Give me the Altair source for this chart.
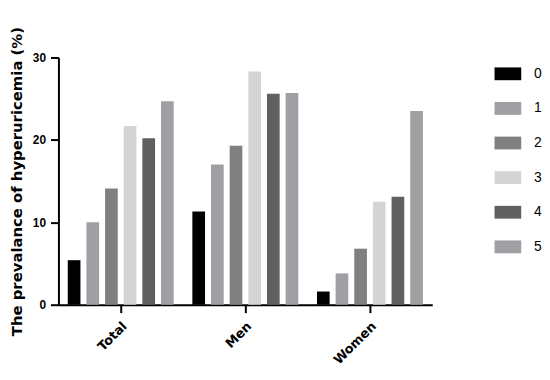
import altair as alt
import pandas as pd

groups = ["Total", "Men", "Women"]
levels = ["0", "1", "2", "3", "4", "5"]
total_vals = [5.4, 10.0, 14.1, 21.7, 20.2, 24.7]
men_vals = [11.3, 17.0, 19.3, 28.3, 25.6, 25.7]
women_vals = [1.6, 3.8, 6.8, 12.5, 13.1, 23.5]
colors = ["#000000", "#a0a0a4", "#808080", "#d4d4d4", "#606060", "#a0a0a4"]

rows = []
for g, vals in zip(groups, [total_vals, men_vals, women_vals]):
    for lv, v in zip(levels, vals):
        rows.append({"group": g, "level": lv, "value": v})
df = pd.DataFrame(rows)

chart = alt.Chart(df).mark_bar().encode(
    x=alt.X("group:N", sort=groups,
            scale=alt.Scale(paddingInner=0, paddingOuter=0),
            axis=alt.Axis(title=None, labelAngle=-45, labelFont="DejaVu Sans",
                          labelFontWeight="bold", labelFontSize=13, labelColor="black",
                          labelPadding=7, tickSize=8, tickWidth=2, tickColor="black",
                          domainWidth=2, domainColor="black")),
    xOffset=alt.XOffset("level:N", sort=levels,
                        scale=alt.Scale(paddingInner=0.32, paddingOuter=0.5)),
    y=alt.Y("value:Q", scale=alt.Scale(domain=[0, 30], nice=False),
            axis=alt.Axis(values=[0, 10, 20, 30], grid=False,
                          title="The prevalance of hyperuricemia (%)",
                          titleFont="DejaVu Sans", titleFontWeight="bold",
                          titleFontSize=15, titleColor="black", titlePadding=8,
                          labelFont="Liberation Sans", labelFontWeight="bold",
                          labelFontSize=12, labelColor="black", labelPadding=5,
                          tickSize=8, tickWidth=2, tickColor="black",
                          domainWidth=2, domainColor="black")),
    color=alt.Color("level:N", sort=levels,
                    scale=alt.Scale(domain=levels, range=colors),
                    legend=alt.Legend(title=None, orient="none", legendX=441, legendY=3,
                                      symbolType="M-1,-0.48H1V0.48H-1Z", symbolSize=729,
                                      symbolStrokeWidth=0, labelFont="Liberation Sans",
                                      labelFontSize=14, labelColor="black", labelOffset=13,
                                      rowPadding=14)),
).properties(
    width=378, height=250,
    autosize=alt.AutoSizeParams(type="none"),
    padding={"left": 51, "top": 48, "right": 111, "bottom": 66},
).configure_view(strokeWidth=0)

chart.save("out.html", embed_options={"renderer": "svg", "actions": False})
